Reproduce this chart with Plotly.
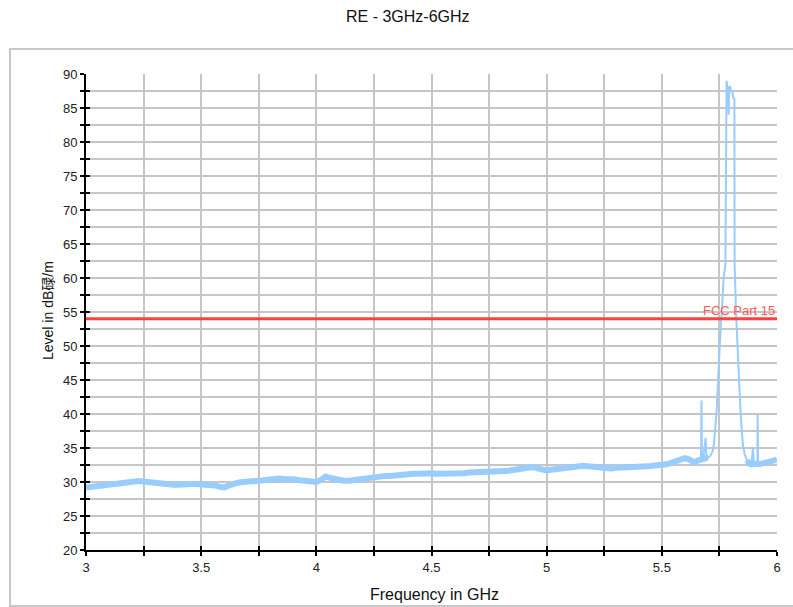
import plotly.graph_objects as go

# ---------------- data ----------------
floor_freq = [
    3.00, 3.02, 3.04, 3.06, 3.08, 3.10, 3.12, 3.14, 3.16, 3.18,
    3.20, 3.22, 3.24, 3.26, 3.28, 3.30, 3.32, 3.34, 3.36, 3.38,
    3.40, 3.42, 3.44, 3.46, 3.48, 3.50, 3.52, 3.54, 3.56, 3.58,
    3.60, 3.62, 3.64, 3.66, 3.68, 3.70, 3.72, 3.74, 3.76, 3.78,
    3.80, 3.82, 3.84, 3.86, 3.88, 3.90, 3.92, 3.94, 3.96, 3.98,
    4.00, 4.02, 4.04, 4.06, 4.08, 4.10, 4.12, 4.14, 4.16, 4.18,
    4.20, 4.22, 4.24, 4.26, 4.28, 4.30, 4.32, 4.34, 4.36, 4.38,
    4.40, 4.42, 4.44, 4.46, 4.48, 4.50, 4.52, 4.54, 4.56, 4.58,
    4.60, 4.62, 4.64, 4.66, 4.68, 4.70, 4.72, 4.74, 4.76, 4.78,
    4.80, 4.82, 4.84, 4.86, 4.88, 4.90, 4.92, 4.94, 4.96, 4.98,
    5.00, 5.02, 5.04, 5.06, 5.08, 5.10, 5.12, 5.14, 5.16, 5.18,
    5.20, 5.22, 5.24, 5.26, 5.28, 5.30, 5.32, 5.34, 5.36, 5.38,
    5.40, 5.42, 5.44, 5.46, 5.48, 5.50, 5.52, 5.54, 5.56, 5.58,
    5.60, 5.62, 5.64, 5.66, 5.68, 5.70,
    None,
    5.87, 5.88, 5.89, 5.90, 5.92, 5.94, 5.96, 5.98, 6.00,
]
floor_level = [
    29.2, 29.3, 29.4, 29.4, 29.5, 29.6, 29.8, 29.9, 30.0, 30.1,
    30.0, 30.1, 30.1, 30.0, 29.9, 29.8, 29.8, 29.7, 29.7, 29.6,
    29.6, 29.7, 29.6, 29.7, 29.7, 29.7, 29.6, 29.6, 29.5, 29.3,
    29.2, 29.5, 29.8, 29.9, 30.0, 30.0, 30.0, 30.1, 30.2, 30.3,
    30.4, 30.5, 30.5, 30.4, 30.5, 30.4, 30.3, 30.2, 30.1, 30.0,
    30.0, 30.3, 30.8, 30.6, 30.4, 30.3, 30.2, 30.2, 30.3, 30.4,
    30.5, 30.6, 30.8, 30.8, 30.8, 30.9, 30.9, 31.0, 31.0, 31.1,
    31.1, 31.2, 31.2, 31.3, 31.3, 31.3, 31.2, 31.2, 31.1, 31.1,
    31.2, 31.2, 31.3, 31.4, 31.4, 31.5, 31.5, 31.5, 31.4, 31.5,
    31.6, 31.6, 31.7, 31.8, 32.0, 32.2, 32.3, 32.2, 32.0, 31.8,
    31.7, 31.8, 31.9, 32.0, 32.1, 32.2, 32.3, 32.4, 32.4, 32.3,
    32.2, 32.1, 32.0, 31.9, 32.0, 32.1, 32.1, 32.2, 32.2, 32.2,
    32.2, 32.3, 32.3, 32.4, 32.4, 32.5, 32.6, 32.8, 33.0, 33.2,
    33.5, 33.3, 32.9, 33.2, 33.5, 33.6,
    None,
    33.2, 32.7, 32.6, 32.7, 32.6, 32.7, 32.8, 33.1, 33.3,
]

peak_freq = [
    5.664, 5.670, 5.672, 5.674, 5.680, 5.686, 5.690, 5.693, 5.700, 5.710,
    5.720, 5.726, 5.732, 5.738, 5.744, 5.750, 5.756, 5.762, 5.768, 5.776,
    5.779, 5.781, 5.784, 5.787, 5.790, 5.793, 5.797, 5.800, 5.806, 5.810,
    5.815, 5.816, 5.822, 5.828, 5.834, 5.840, 5.846, 5.852, 5.860, 5.870,
    5.880, 5.890, 5.895, 5.900, 5.910, 5.915, 5.916, 5.918, 5.925,
]
peak_level = [
    33.2, 33.5, 42.0, 33.6, 33.4, 35.0, 36.5, 34.0, 33.6, 33.8,
    34.5, 35.5, 38.0, 40.5, 45.0, 50.0, 53.0, 56.0, 60.0, 62.0,
    88.0, 89.0, 88.3, 88.0, 84.0, 88.0, 88.2, 87.5, 87.5, 86.5,
    86.3, 62.0, 55.0, 50.0, 45.0, 41.5, 38.0, 35.5, 34.0, 33.2,
    32.7, 32.8, 35.0, 33.0, 32.6, 32.8, 40.0, 32.8, 32.6,
]

limit_freq = [3.0, 6.0]
limit_level = [54.0, 54.0]
limit_name = "FCC Part 15"

x_range = [3.0, 6.0]
y_range = [20.0, 90.0]
x_tickvals = [3.0, 3.5, 4.0, 4.5, 5.0, 5.5, 6.0]
x_ticktext = ["3", "3.5", "4", "4.5", "5", "5.5", "6"]
x_all_ticks = [3.0, 3.25, 3.5, 3.75, 4.0, 4.25, 4.5, 4.75, 5.0, 5.25, 5.5, 5.75, 6.0]
y_tickvals = [20, 25, 30, 35, 40, 45, 50, 55, 60, 65, 70, 75, 80, 85, 90]
y_all_ticks = [20, 22.5, 25, 27.5, 30, 32.5, 35, 37.5, 40, 42.5, 45, 47.5, 50, 52.5,
               55, 57.5, 60, 62.5, 65, 67.5, 70, 72.5, 75, 77.5, 80, 82.5, 85, 87.5, 90]

title_text = "RE - 3GHz-6GHz"
x_title = "Frequency in GHz"
y_title_parts = ["Level in dB", "碌", "/m"]

# ---------------- figure ----------------
W, H = 793, 607
ML, MR, MT, MB = 86, 16, 74, 57
PW, PH = W - ML - MR, H - MT - MB

trace_color = "#99ccff"
limit_color = "#ff4040"
grid_color = "#c6c6c6"
font_family = "Liberation Sans, Arial, sans-serif"

fig = go.Figure()
fig.add_trace(go.Scatter(x=floor_freq, y=floor_level, mode="lines",
                         line=dict(color=trace_color, width=6),
                         connectgaps=False, hoverinfo="skip", showlegend=False))
fig.add_trace(go.Scatter(x=peak_freq, y=peak_level, mode="lines",
                         line=dict(color=trace_color, width=2),
                         hoverinfo="skip", showlegend=False))
fig.add_trace(go.Scatter(x=limit_freq, y=limit_level, mode="lines",
                         line=dict(color=limit_color, width=3),
                         hoverinfo="skip", showlegend=False))
# invisible trace to activate the overlay axes (inside half of cross ticks)
fig.add_trace(go.Scatter(x=[None], y=[None], xaxis="x2", yaxis="y2",
                         showlegend=False, hoverinfo="skip"))

tick_font = dict(family=font_family, size=13, color="#222222")

fig.update_layout(
    width=W, height=H,
    margin=dict(l=ML, r=MR, t=MT, b=MB),
    paper_bgcolor="white", plot_bgcolor="white",
    showlegend=False,
    xaxis=dict(range=x_range, tickmode="array", tickvals=x_tickvals, ticktext=x_ticktext,
               ticks="outside", ticklen=4, tickwidth=1.5, tickcolor="black",
               showgrid=True, gridcolor=grid_color, gridwidth=1.5,
               minor=dict(tickmode="array", tickvals=x_all_ticks, ticks="outside",
                          ticklen=4, tickwidth=1.5, tickcolor="black",
                          showgrid=True, gridcolor=grid_color, gridwidth=1.5),
               showline=True, linecolor="black", linewidth=2,
               zeroline=False, tickfont=tick_font, fixedrange=True),
    yaxis=dict(range=y_range, tickmode="array", tickvals=y_tickvals,
               ticks="outside", ticklen=4, tickwidth=1.5, tickcolor="black",
               showgrid=True, gridcolor=grid_color, gridwidth=1.5,
               minor=dict(tickmode="array", tickvals=y_all_ticks, ticks="outside",
                          ticklen=4, tickwidth=1.5, tickcolor="black",
                          showgrid=True, gridcolor=grid_color, gridwidth=1.5),
               showline=True, linecolor="black", linewidth=2,
               zeroline=False, tickfont=tick_font, fixedrange=True),
    xaxis2=dict(range=x_range, overlaying="x", anchor="y", side="bottom",
                tickmode="array", tickvals=x_all_ticks, ticks="inside", ticklen=4,
                tickwidth=1.5, tickcolor="black", showticklabels=False,
                showgrid=False, zeroline=False, showline=False, fixedrange=True),
    yaxis2=dict(range=y_range, overlaying="y", anchor="x", side="left",
                tickmode="array", tickvals=y_all_ticks, ticks="inside", ticklen=4,
                tickwidth=1.5, tickcolor="black", showticklabels=False,
                showgrid=False, zeroline=False, showline=False, fixedrange=True),
)

# outer frame
fig.add_shape(type="rect", xref="paper", yref="paper",
              x0=(10 - ML) / PW, x1=(802 - ML) / PW,
              y0=(MT + PH - 606) / PH, y1=(MT + PH - 49) / PH,
              line=dict(color="#c8c8c8", width=2), fillcolor="rgba(0,0,0,0)",
              layer="below")

# texts
fig.add_annotation(text=title_text, xref="paper", yref="paper",
                   x=(408 - ML) / PW, y=(MT + PH - 17) / PH,
                   xanchor="center", yanchor="middle", showarrow=False,
                   font=dict(family=font_family, size=16, color="#111111"))
fig.add_annotation(text=x_title, xref="paper", yref="paper",
                   x=(434 - ML) / PW, y=(MT + PH - 594) / PH,
                   xanchor="center", yanchor="middle", showarrow=False,
                   font=dict(family=font_family, size=16, color="#111111"))
y_title_html = (y_title_parts[0]
                + "<span style='font-family:\"Noto Sans CJK SC\"'>" + y_title_parts[1] + "</span>"
                + y_title_parts[2])
fig.add_annotation(text=y_title_html, xref="paper", yref="paper",
                   x=(47 - ML) / PW, y=(MT + PH - 311) / PH,
                   xanchor="center", yanchor="middle", showarrow=False, textangle=-90,
                   font=dict(family=font_family, size=14, color="#111111"))
fig.add_annotation(text=limit_name, x=limit_freq[-1], y=limit_level[-1],
                   xref="x", yref="y", xanchor="right", yanchor="bottom",
                   showarrow=False, yshift=-1,
                   font=dict(family=font_family, size=13, color="#ff5a5a"))

fig.write_html(
    "out.html",
    config={"displayModeBar": False},
    post_script="document.body.style.margin='0';document.body.style.overflow='hidden';",
)
